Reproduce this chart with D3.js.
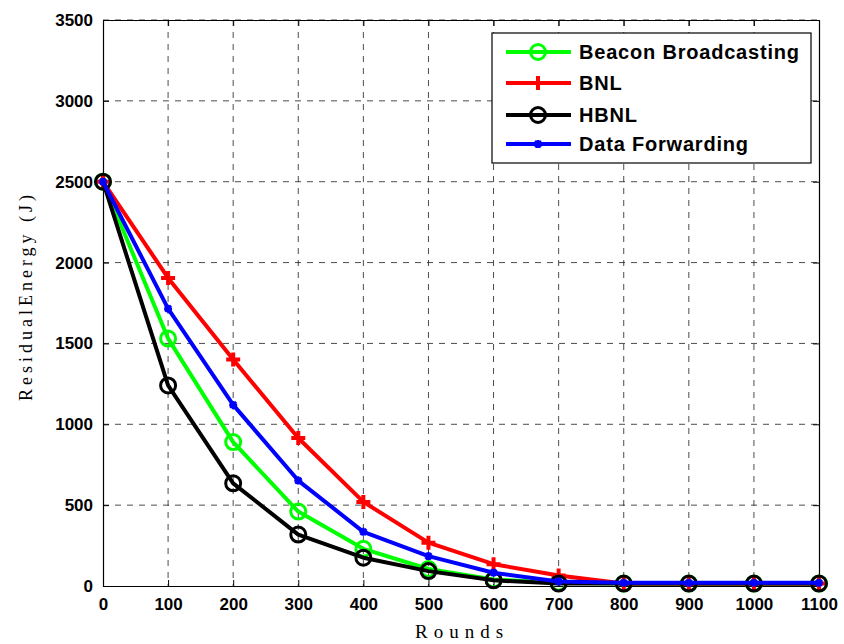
<!DOCTYPE html>
<html>
<head>
<meta charset="utf-8">
<script src="https://cdn.jsdelivr.net/npm/d3@7"></script>
<style>
  html, body { margin: 0; padding: 0; background: #fff; }
  svg { display: block; }
</style>
</head>
<body>
<svg id="chart" width="844" height="644"></svg>
<script>
// Residual energy (J) per round for each scheme
const rounds = [0, 100, 200, 300, 400, 500, 600, 700, 800, 900, 1000, 1100];
const beaconBroadcasting = [2500, 1530, 890, 460, 230, 105, 40, 20, 15, 15, 15, 15];
const bnl = [2500, 1905, 1400, 915, 520, 268, 135, 65, 15, 15, 15, 15];
const hbnl = [2500, 1240, 635, 318, 175, 92, 35, 15, 15, 15, 15, 15];
const dataForwarding = [2500, 1715, 1120, 652, 335, 185, 82, 28, 20, 20, 20, 20];
const seriesNames = ["Beacon Broadcasting", "BNL", "HBNL", "Data Forwarding"];
const xTicks = [0, 100, 200, 300, 400, 500, 600, 700, 800, 900, 1000, 1100];
const yTicks = [0, 500, 1000, 1500, 2000, 2500, 3000, 3500];

const series = [
  { name: seriesNames[0], values: beaconBroadcasting, color: "#00ff00", marker: "circle" },
  { name: seriesNames[1], values: bnl, color: "#ff0000", marker: "plus" },
  { name: seriesNames[2], values: hbnl, color: "#000000", marker: "circle" },
  { name: seriesNames[3], values: dataForwarding, color: "#0000ff", marker: "star" }
];

const svg = d3.select("#chart");
const m = { left: 103, right: 819, top: 20, bottom: 586 };
const x = d3.scaleLinear().domain([0, 1100]).range([m.left, m.right]);
const y = d3.scaleLinear().domain([0, 3500]).range([m.bottom, m.top]);

// grid
const grid = svg.append("g");
grid.selectAll("line.gx").data(xTicks.slice(1, -1)).join("line")
  .attr("x1", d => x(d)).attr("x2", d => x(d))
  .attr("y1", m.top).attr("y2", m.bottom)
  .attr("stroke", "#222").attr("stroke-width", 1).attr("stroke-dasharray", "6,6").attr("opacity", 0.8);
grid.selectAll("line.gy").data(yTicks.slice(1)).join("line")
  .attr("x1", m.left).attr("x2", m.right)
  .attr("y1", d => y(d)).attr("y2", d => y(d))
  .attr("stroke", "#222").attr("stroke-width", 1).attr("stroke-dasharray", "6,6").attr("opacity", 0.8);

// axes (ticks pointing inward, MATLAB style)
const tickFont = "bold 17px Arial, 'Liberation Sans', sans-serif";
svg.append("g").attr("transform", `translate(0,${m.bottom})`)
  .call(d3.axisBottom(x).tickValues(xTicks).tickFormat(d3.format("d")).tickSizeInner(-6).tickSizeOuter(0).tickPadding(12));
svg.append("g").attr("transform", `translate(${m.left},0)`)
  .call(d3.axisLeft(y).tickValues(yTicks).tickFormat(d3.format("d")).tickSizeInner(-6).tickSizeOuter(0).tickPadding(10));
svg.append("g").attr("transform", `translate(0,${m.top})`)
  .call(d3.axisTop(x).tickValues(xTicks).tickFormat("").tickSizeInner(-6).tickSizeOuter(0));
svg.append("g").attr("transform", `translate(${m.right},0)`)
  .call(d3.axisRight(y).tickValues(yTicks).tickFormat("").tickSizeInner(-6).tickSizeOuter(0));
svg.selectAll(".domain").attr("stroke", "#000").attr("stroke-width", 1.2);
svg.selectAll(".tick line").attr("stroke", "#000");
svg.selectAll(".tick text").style("font", tickFont).attr("fill", "#000");

// series lines and markers
const line = d3.line().x((d, i) => x(rounds[i])).y(d => y(d));
function drawMarker(g, type, color, cx, cy) {
  if (type === "circle") {
    g.append("circle").attr("cx", cx).attr("cy", cy).attr("r", 7.5)
      .attr("fill", "none").attr("stroke", color).attr("stroke-width", 3);
  } else if (type === "plus") {
    g.append("path").attr("d", `M${cx - 7},${cy}H${cx + 7}M${cx},${cy - 7}V${cy + 7}`)
      .attr("stroke", color).attr("stroke-width", 4);
  } else {
    g.append("path").attr("d",
      `M${cx - 4},${cy}H${cx + 4}M${cx},${cy - 4}V${cy + 4}M${cx - 3},${cy - 3}L${cx + 3},${cy + 3}M${cx - 3},${cy + 3}L${cx + 3},${cy - 3}`)
      .attr("stroke", color).attr("stroke-width", 2.5);
  }
}
series.forEach(s => {
  const g = svg.append("g");
  g.append("path").datum(s.values).attr("d", line)
    .attr("fill", "none").attr("stroke", s.color).attr("stroke-width", 4).attr("stroke-linejoin", "round");
  s.values.forEach((v, i) => drawMarker(g, s.marker, s.color, x(rounds[i]), y(v)));
});

// legend
const lg = svg.append("g");
lg.append("rect").attr("x", 492).attr("y", 33).attr("width", 319).attr("height", 130)
  .attr("fill", "#fff").attr("stroke", "#000").attr("stroke-width", 1.2);
const legendY = [52, 83, 115, 144];
series.forEach((s, i) => {
  const ly = legendY[i];
  lg.append("line").attr("x1", 506).attr("x2", 571).attr("y1", ly).attr("y2", ly)
    .attr("stroke", s.color).attr("stroke-width", 4);
  drawMarker(lg, s.marker, s.color, 538, ly);
  lg.append("text").attr("x", 579).attr("y", ly + 7).text(s.name)
    .style("font", "bold 20px Arial, 'Liberation Sans', sans-serif")
    .style("letter-spacing", "0.8px").attr("fill", "#000");
});

// axis titles
svg.append("text").attr("x", 462).attr("y", 638).attr("text-anchor", "middle")
  .style("font-family", "'Liberation Serif', 'DejaVu Serif', serif").style("font-size", "19px")
  .style("letter-spacing", "6px").text("Rounds");
svg.append("text").attr("transform", "translate(32,296) rotate(-90)").attr("text-anchor", "middle")
  .style("font-family", "'Liberation Serif', 'DejaVu Serif', serif").style("font-size", "18px")
  .style("letter-spacing", "4px").text("ResidualEnergy (J)");
</script>
</body>
</html>
